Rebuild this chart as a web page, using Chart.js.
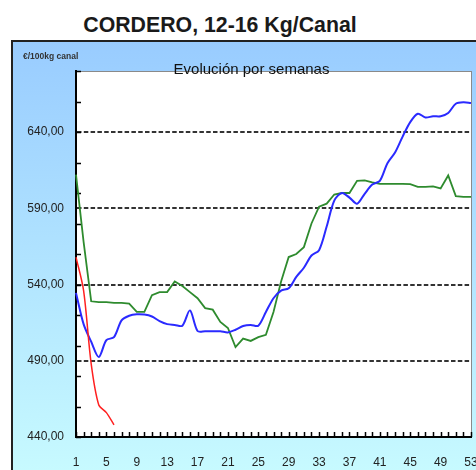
<!DOCTYPE html>
<html>
<head>
<meta charset="utf-8">
<script src="https://cdn.jsdelivr.net/npm/chart.js@4.4.1/dist/chart.umd.min.js"></script>
<style>
  html, body { margin: 0; padding: 0; background: #fff; overflow: hidden; width: 476px; height: 470px; }
  body { position: relative; font-family: "Liberation Sans", Arial, sans-serif; }
  #title { position: absolute; left: 0; width: 440px; top: 15px; text-align: center; font-size: 21.3px; font-weight: bold; line-height: 1; color: #1a1a1a; }
  #frame { position: absolute; left: 11px; top: 40px; width: 520px; height: 480px; box-sizing: border-box; border: 2px solid #222; background: linear-gradient(#99ccff, #ccffff); }
  #chart { position: absolute; left: 0; top: 0; }
  #unit { position: absolute; left: 23px; top: 52px; font-size: 8.5px; line-height: 1; font-weight: bold; color: #333; }
  #sub { position: absolute; left: 0; width: 503px; top: 61px; text-align: center; font-size: 15px; line-height: 1; color: #111; }
</style>
</head>
<body>
<div id="title">CORDERO, 12-16 Kg/Canal</div>
<div id="frame"></div>
<canvas id="chart" width="520" height="500"></canvas>
<div id="unit">€/100kg canal</div>
<div id="sub">Evolución por semanas</div>
<script>
const weeks = [1, 2, 3, 4, 5, 6, 7, 8, 9, 10, 11, 12, 13, 14, 15, 16, 17, 18, 19, 20,
  21, 22, 23, 24, 25, 26, 27, 28, 29, 30, 31, 32, 33, 34, 35, 36, 37, 38, 39, 40,
  41, 42, 43, 44, 45, 46, 47, 48, 49, 50, 51, 52, 53];
const labelWeeks = [1, 5, 9, 13, 17, 21, 25, 29, 33, 37, 41, 45, 49, 53];
const yLabels = [440, 490, 540, 590, 640];

// blue line
const blueSeries = [534.5, 514, 502.5, 492.5, 503.5, 505.5, 516.5, 519.5, 520.5, 520.3,
  519, 516, 514, 513.5, 513, 523, 509.5, 509.3, 509.3, 509.3,
  508.6, 510.3, 512.8, 513.5, 513, 522, 531, 536, 537.5, 545,
  551, 559, 562.5, 578, 595, 600, 597, 593, 599.5, 605.5,
  608, 619.5, 626.5, 637, 646.5, 652, 649.5, 650.3, 650.3, 652.5,
  658.5, 659.5, 659];
// green line
const greenSeries = [612, 568, 529, 528.5, 528.5, 528, 528, 527.5, 522, 522,
  533, 535, 535, 542, 539, 535, 531, 524.5, 523.5, 515.5,
  511.5, 499, 504.5, 503, 505.5, 507, 522, 542, 558, 560,
  564.5, 580, 591, 593, 599, 600, 600, 608, 608.3, 607,
  606, 606, 606, 606, 605.8, 604, 604, 604.3, 603, 611.5,
  598, 597.4, 597.4];
// red line (only first weeks)
const redSeries = [558, 536, 488, 461, 456, 448];

const plotFrame = {
  id: 'plotFrame',
  beforeDraw(chart) {
    const { ctx, chartArea: a } = chart;
    ctx.save();
    ctx.fillStyle = '#fff';
    ctx.fillRect(a.left, a.top, a.right - a.left, a.bottom - a.top);
    ctx.strokeStyle = '#8a8a8a';
    ctx.lineWidth = 1;
    ctx.strokeRect(a.left + 0.5, a.top + 0.5, a.right - a.left, a.bottom - a.top);
    ctx.restore();
  },
  beforeDatasetsDraw(chart) {
    // inside tick marks, Excel style
    const { ctx, chartArea: a, scales: { x, y } } = chart;
    ctx.save();
    ctx.strokeStyle = '#000';
    ctx.lineWidth = 1.5;
    ctx.beginPath();
    for (let v = y.min; v <= y.max; v += 20) {
      const py = Math.round(y.getPixelForValue(v)) + 0.5;
      ctx.moveTo(a.left, py); ctx.lineTo(a.left + 5, py);
    }
    weeks.forEach((w, i) => {
      const px = Math.round(x.getPixelForValue(i)) + 0.5;
      ctx.moveTo(px, a.bottom); ctx.lineTo(px, a.bottom - 5);
    });
    ctx.stroke();
    ctx.restore();
  }
};

new Chart(document.getElementById('chart'), {
  type: 'line',
  data: {
    labels: weeks,
    datasets: [
      { data: redSeries, borderColor: '#ff2020', borderWidth: 1.5, pointRadius: 0, tension: 0.3 },
      { data: blueSeries, borderColor: '#2a2aff', borderWidth: 2, pointRadius: 0, tension: 0.3 },
      { data: greenSeries, borderColor: '#2e8b2e', borderWidth: 1.8, pointRadius: 0, tension: 0 }
    ]
  },
  options: {
    responsive: false,
    animation: false,
    devicePixelRatio: 1,
    layout: { padding: { top: 71, left: 0, right: 49, bottom: 0 } },
    plugins: { legend: { display: false }, tooltip: { enabled: false }, title: { display: false } },
    scales: {
      x: {
        afterFit: s => { s.height = 63; },
        grid: { display: false, drawTicks: false },
        border: { color: '#000', width: 2 },
        ticks: {
          autoSkip: false, maxRotation: 0, padding: 18, color: '#222',
          font: { family: 'Liberation Sans', size: 12 },
          callback: (v, i) => labelWeeks.includes(weeks[i]) ? String(weeks[i]) : ''
        }
      },
      y: {
        min: 440, max: 680,
        afterBuildTicks: s => { s.ticks = yLabels.map(v => ({ value: v })); },
        afterFit: s => { s.width = 76; },
        grid: {
          drawTicks: false, lineWidth: 2,
          color: c => (c.tick && c.tick.value === 440) ? 'rgba(0,0,0,0)' : '#333'
        },
        border: { color: '#000', width: 2, dash: [4.5, 2.3] },
        ticks: {
          padding: 12, color: '#222',
          font: { family: 'Liberation Sans', size: 12 },
          callback: v => v.toFixed(2).replace('.', ',')
        }
      }
    }
  },
  plugins: [plotFrame]
});
</script>
</body>
</html>
